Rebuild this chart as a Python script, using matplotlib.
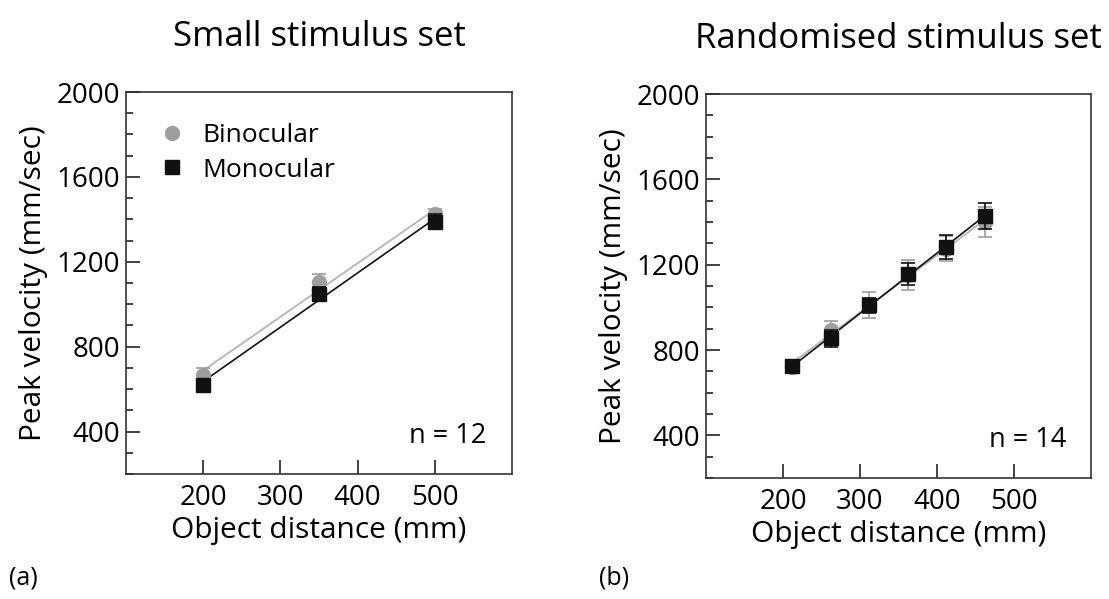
import numpy as np
import matplotlib.pyplot as plt
from matplotlib.ticker import MultipleLocator

plt.rcParams['font.family'] = ['Open Sans', 'DejaVu Sans']

# panel (a): small stimulus set
dist_a = [200, 350, 500]
bino_a = [668, 1106, 1426]
bino_a_err = [30, 35, 25]
mono_a = [621, 1049, 1388]
mono_a_err = [22, 30, 35]

# panel (b): randomised stimulus set
dist_b = [212, 262, 312, 362, 412, 462]
bino_b = [720, 892, 1010, 1150, 1275, 1400]
bino_b_err = [25, 45, 60, 70, 60, 70]
mono_b = [724, 856, 1010, 1156, 1283, 1427]
mono_b_err = [30, 40, 35, 50, 55, 60]

titles = ['Small stimulus set', 'Randomised stimulus set']
n_labels = ['n = 12', 'n = 14']
panel_tags = ['(a)', '(b)']

bino_col = '#9e9e9e'
bino_line = '#b8b8b8'
mono_col = '#111111'

fig = plt.figure(figsize=(11.09, 5.99), dpi=100)
ax_a = fig.add_axes([0.1136, 0.2087, 0.348, 0.6377])
ax_b = fig.add_axes([0.6366, 0.202, 0.347, 0.641])

panels = [
    (ax_a, dist_a, bino_a, bino_a_err, mono_a, mono_a_err),
    (ax_b, dist_b, bino_b, bino_b_err, mono_b, mono_b_err),
]

for i, (ax, d, b, be, m, me) in enumerate(panels):
    d = np.array(d)
    # fitted lines
    for y, c, lw in [(b, bino_line, 1.4), (m, mono_col, 1.2)]:
        k, c0 = np.polyfit(d, y, 1)
        ax.plot(d, k * d + c0, color=c, lw=lw, zorder=2)
    ax.errorbar(d, b, yerr=be, fmt='o', color=bino_col, ms=10, capsize=5,
                elinewidth=1.2, capthick=1.2, zorder=3, label='Binocular')
    ax.errorbar(d, m, yerr=me, fmt='s', color=mono_col, ms=10, capsize=5,
                elinewidth=1.2, capthick=1.2, zorder=4, label='Monocular')

    ax.set_xlim(100, 600)
    ax.set_ylim(200, 2000)
    ax.set_xticks([200, 300, 400, 500])
    ax.set_yticks([400, 800, 1200, 1600, 2000])
    ax.yaxis.set_minor_locator(MultipleLocator(100))
    ax.tick_params(axis='both', which='major', direction='in', length=10,
                   width=1.2, labelsize=20, color='#222222')
    ax.tick_params(axis='x', which='major', pad=7)
    ax.tick_params(axis='y', which='major', pad=4)
    ax.tick_params(axis='y', which='minor', direction='in', length=5,
                   width=1.2, color='#222222')
    for s in ax.spines.values():
        s.set_linewidth(1.2)
        s.set_color('#333333')
    ax.set_xlabel('Object distance (mm)', fontsize=21.5, labelpad=3)
    ax.set_ylabel('Peak velocity (mm/sec)', fontsize=21.5, labelpad=6)
    ax.set_title(titles[i], fontsize=25, pad=33)
    ax.text(0.935, 0.1, n_labels[i], transform=ax.transAxes, ha='right',
            va='center', fontsize=19.5)

handles, labels = ax_a.get_legend_handles_labels()
ax_a.legend([h[0] for h in handles], labels, loc='upper left', frameon=False,
            fontsize=19, handletextpad=0.6, labelspacing=0.35,
            bbox_to_anchor=(0.02, 0.98), handlelength=1.1)

fig.text(0.008, 0.035, panel_tags[0], fontsize=18, va='center')
fig.text(0.54, 0.035, panel_tags[1], fontsize=18, va='center')

fig.savefig('out.png', dpi=100, facecolor='white')
